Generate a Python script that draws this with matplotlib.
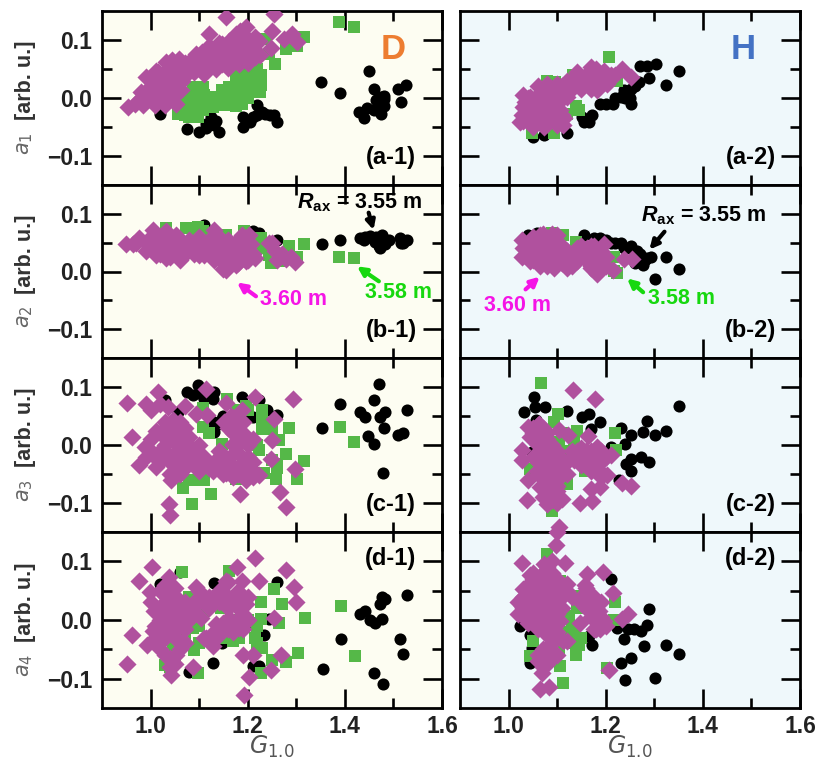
import numpy as np
import matplotlib
matplotlib.use("Agg")
import matplotlib.pyplot as plt

plt.rcParams["font.family"] = ["Liberation Sans", "DejaVu Sans"]
plt.rcParams["mathtext.fontset"] = "custom"
plt.rcParams["mathtext.rm"] = "DejaVu Sans"
plt.rcParams["mathtext.it"] = "DejaVu Sans:italic"
plt.rcParams["mathtext.bf"] = "Liberation Sans:bold"
plt.rcParams["mathtext.bfit"] = "Liberation Sans:italic:bold"

# (G_1.0, a_n). D column
d1_black = [(1.02,-.027),(1.075,-.054),(1.10,-.058),(1.14,-.059),(1.125,-.033),(1.115,-.044),(1.115,-.052),(1.13,-.047),(1.19,-.05),(1.19,-.033),(1.205,-.041),(1.22,-.012),(1.22,-.03),(1.235,-.027),(1.255,-.03),(1.26,-.041),(1.23,-.024),(1.21,-.033),(1.45,.046),(1.35,.027),(1.39,.009),(1.46,.016),(1.475,.002),(1.48,-.001),(1.48,-.013),(1.43,-.024),(1.44,-.034),(1.46,-.021),(1.475,-.027),(1.515,-.007),(1.51,.015),(1.525,.022),(1.465,-.004),
            (1.135,-.04),(1.2,-.04),(1.245,-.03),(1.445,-.018),(1.47,-.012),(1.48,.003)]
d1_green = [(1.056,-.027),(1.08,-.033),(1.097,-.033),(1.087,.019),(1.107,.019),(1.094,-.004),(1.073,-.015),(1.128,.002),(1.148,-.004),(1.169,-.01),(1.189,-.01),(1.189,.013),(1.175,.039),(1.203,.036),(1.227,.022),(1.227,.039),(1.21,.053),(1.257,.059),(1.244,.076),(1.278,.085),(1.302,.09),(1.315,.105),(1.387,.131),(1.419,.123),(1.237,.102),(1.114,-.01),(1.175,.007),(1.216,.047),(1.107,-.021),(1.066,-.021),(1.128,-.015),(1.148,.013),(1.162,.019),(1.189,.03),
            (1.08,.0),(1.10,-.012),(1.12,-.008),(1.09,.012),(1.07,.0),(1.11,.005),(1.14,-.008),(1.16,.0),(1.18,.0),(1.19,.02),(1.21,.02),(1.21,.035),(1.19,.045),(1.22,.05),(1.07,-.03),(1.09,-.025),(1.12,.0),
            (1.085,-.012),(1.1,.0),(1.13,-.012),(1.155,-.012),(1.175,-.014),(1.2,.0),(1.17,.018),(1.2,.012),(1.18,.028),(1.225,.01)]
d1_purple = [(.954,-.015),(.977,-.004),(.967,-.01),(.991,.002),(.991,.036),(1.008,.025),(1.032,.019),(1.046,.002),(1.053,-.01),(1.063,.013),(1.032,.062),(1.039,.042),(1.059,.067),(1.073,.042),(1.087,.059),(1.107,.053),(1.128,.065),(1.148,.059),(1.169,.065),(1.182,.059),(1.216,.07),(1.196,.105),(1.175,.11),(1.196,.122),(1.216,.105),(1.175,.087),(1.148,.093),(1.121,.11),(1.155,.139),(1.254,.145),(1.247,.087),(1.25,.116),(1.274,.102),(1.291,.11),(1.302,.096),(1.223,.099),(1.121,.076),(1.094,.076),(1.012,.047),(1.018,-.004),(.998,.013),(1.039,.025),(1.08,.059),(1.141,.076),(1.162,.099),(1.189,.082),(1.21,.087),
             (.98,.01),(1.0,.0),(1.02,.01),(1.0,.02),(1.02,.03),(1.03,.0),(1.04,.01),(1.05,.02),(1.015,.045),(1.03,.045),(1.05,.05),(1.06,.04),(1.045,.065),(1.07,.06),(1.09,.07),(1.10,.065),(1.12,.06),(1.13,.08),(1.15,.075),(1.14,.095),(1.16,.085),(1.18,.075),(1.17,.1),(1.19,.095),(1.2,.075),(1.21,.095),(1.185,.115),(1.08,.045),(.985,-.012),(1.01,-.012),(1.03,-.012),(1.0,.035),
             (1.065,.03),(1.09,.045),(1.11,.042),(1.135,.05),(1.16,.052),(1.2,.06),(1.19,.07),(1.225,.075),(1.105,.08),(1.12,.09)]

d2_black = [(1.353,.048),(1.389,.055),(1.431,.058),(1.442,.059),(1.455,.058),(1.476,.064),(1.462,.052),(1.472,.041),(1.483,.047),(1.513,.058),(1.52,.049),(1.527,.055),(1.223,.067),(1.261,.055),(1.111,.081),(1.21,.07),(1.469,.055),(1.452,.061),
            (1.44,.055),(1.47,.045),(1.49,.055),(1.465,.06),(1.515,.05)]
d2_green = [(1.285,.045),(1.315,.048),(1.388,.025),(1.419,.023),(1.032,.075),(1.073,.075),(1.097,.078),(1.087,.064),(1.107,.07),(1.155,.064),(1.192,.07),(1.227,.058),(1.223,.041),(1.247,.015),(1.264,.018),(1.302,.026),(1.285,.026),(1.244,.029),
            (1.25,.03),(1.24,.05)]
d2_purple = [(.95,.048),(.977,.058),(.964,.047),(1.005,.072),(.998,.052),(.991,.035),(1.032,.07),(1.032,.024),(1.018,.041),(1.046,.052),(1.059,.041),(1.073,.047),(1.087,.041),(1.107,.047),(1.131,.072),(1.128,.052),(1.148,.052),(1.155,.003),(1.148,.018),(1.175,.012),(1.189,.064),(1.175,.041),(1.196,.018),(1.216,.024),(1.206,.047),(1.244,.049),(1.257,.035),(1.278,.021),(1.298,.017),(1.121,.035),(1.162,.029),(1.053,.064),(1.012,.029),(1.203,.064),
             (.97,.05),(.99,.05),(1.0,.06),(1.01,.045),(1.02,.055),(1.03,.04),(1.04,.06),(1.05,.035),(1.06,.055),(1.07,.03),(1.08,.055),(1.09,.03),(1.1,.06),(1.1,.04),(1.12,.055),(1.13,.04),(1.11,.028),(1.14,.06),(1.15,.04),(1.16,.055),(1.17,.03),(1.18,.055),(1.19,.035),(1.2,.05),(1.21,.03),(1.165,.015),(1.18,.015),(1.2,.02),(1.14,.03),(1.25,.05),(1.27,.03),(1.26,.02),(1.29,.025),(1.02,.03),(1.0,.04),(1.13,.062),
             (1.1,.028),(1.06,.02),(1.04,.025),(1.15,.005),(1.13,.02)]

d3_black = [(1.097,.103),(1.076,.091),(1.087,.086),(1.111,.08),(1.131,.091),(1.128,.08),(1.189,.082),(1.223,.077),(1.261,.051),(1.21,.048),(1.148,.045),(1.134,.034),(1.131,.022),(1.056,.057),(1.029,.077),(1.47,.105),(1.461,.077),(1.389,.07),(1.353,.03),(1.431,.057),(1.442,.048),(1.483,.057),(1.472,.048),(1.527,.061),(1.481,.03),(1.448,.016),(1.46,.001),(1.51,.017),(1.52,.02),(1.478,-.049),
            (1.1,.09),(1.12,.09),(1.15,.05),(1.2,.05),(1.24,.06),(1.13,.04),(1.13,.03)]
d3_green = [(1.389,.031),(1.419,.005),(1.285,.03),(1.315,-.028),(1.302,-.059),(1.259,-.059),(1.278,-.016),(1.261,-.032),(1.264,.008),(1.23,.06),(1.23,.028),(1.25,.028),(1.223,-.009),(1.124,-.085),(1.085,-.101),(1.066,-.074),(1.094,-.061),(1.175,-.058),(1.233,-.049),(1.158,.08),(1.196,.068),(1.107,.063),(1.107,.031),(1.148,.002),(1.094,-.032),(1.175,.06),(1.059,-.049),
            (1.12,.02),(1.2,.06),(1.23,.04),(1.24,.03),(1.22,.0),(1.25,-.025),(1.1,-.05),(1.11,-.06),(1.08,-.06),(1.26,-.04)]
d3_purple = [(.952,.073),(1.016,.091),(.991,.071),(1.035,.066),(1.07,.068),(1.114,.096),(1.155,.073),(1.216,.082),(1.294,.08),(.962,.014),(1.254,.045),(1.25,.008),(1.247,-.024),(1.298,-.041),(1.266,-.081),(1.279,-.107),(1.184,-.085),(1.037,-.102),(1.039,-.121),(.977,-.035),(.988,-.003),(1.012,.025),(1.022,-.009),(1.012,-.038),(1.042,-.061),(1.046,.043),(1.053,.002),(1.073,-.021),(1.094,.054),(1.117,.051),(1.08,.014),(1.107,-.026),(1.128,-.044),(1.155,-.049),(1.196,-.061),(1.223,-.052),(1.169,.002),(1.152,.04),(1.189,.06),(1.175,.031),(1.203,.008),(1.189,-.021),(1.21,-.044),(1.032,.014),(1.059,-.032),(1.148,-.015),
             (1.0,.01),(1.02,.02),(1.04,.03),(1.06,.03),(1.05,.01),(1.07,.01),(1.03,-.01),(1.0,-.01),(.99,-.02),(1.04,-.03),(1.06,-.015),(1.08,-.005),(1.09,-.03),(1.11,-.02),(1.1,.0),(1.07,.03),(1.02,-.03),(1.06,-.05),(1.05,-.035),(1.13,-.03),(1.15,-.035),(1.16,-.03),(1.18,-.04),(1.17,-.055),(1.19,-.05),(1.2,-.04),(1.21,-.055),(1.17,.02),(1.19,.02),(1.18,.04),(1.16,.03),(1.2,.0),(1.18,.0),(1.17,-.015),(1.2,-.02),(1.15,-.05),(1.03,.04),(1.1,-.045),(1.02,.07),(1.0,.06),(1.04,-.05),(1.14,-.01),
             (1.03,.0),(1.06,.04),(1.08,.0),(1.09,-.015),(1.12,-.04),(1.14,-.04),(1.16,-.045),(1.18,-.05),(1.19,-.03),(1.21,-.03),(1.04,-.02),(1.01,-.02),(1.05,-.015),(1.07,-.04),(1.05,.02),(1.17,.0),(1.19,.04),(1.165,.05),(1.21,.01)]

d4_black = [(1.061,.082),(1.02,.061),(1.131,.063),(1.261,.064),(1.476,.04),(1.483,.036),(1.472,.027),(1.527,.043),(1.442,.016),(1.431,.01),(1.452,0),(1.462,-.005),(1.477,.001),(1.392,-.033),(1.513,-.033),(1.519,-.058),(1.355,-.083),(1.461,-.09),(1.479,-.109),(1.128,-.074),(1.08,-.088),(1.21,-.079),(1.223,-.079),(1.233,-.026),(1.21,-.005),(1.244,.001),(1.148,-.039)]
d4_green = [(1.065,.082),(1.392,.024),(1.421,-.062),(1.303,-.056),(1.278,-.071),(1.254,.053),(1.271,.027),(1.317,.004),(1.264,-.005),(1.227,.03),(1.227,.001),(1.216,-.03),(1.23,-.048),(1.25,-.068),(1.097,-.091),(1.09,-.051),(1.029,-.076),(1.169,-.036),(1.182,-.03),(1.087,-.013),(1.08,.039),(1.107,.016),(1.162,.084),(1.227,-.091),(1.145,.021),(1.046,-.042),
            (1.1,-.01),(1.09,-.05),(1.1,-.04),(1.13,.03),(1.2,.0),(1.22,-.01),(1.22,-.04),(1.15,-.03),(1.17,.0),(1.07,-.03),(1.05,-.06),(1.04,-.08)]
d4_purple = [(1.003,.09),(1.038,.074),(.977,.067),(1.177,.09),(1.216,.105),(1.279,.086),(1.223,.066),(1.295,.057),(1.3,.03),(1.255,.003),(1.188,.067),(1.155,.067),(1.094,.056),(.998,.047),(1.032,.044),(1.053,.039),(1.1,.033),(1.121,.03),(1.175,.039),(1.196,.027),(1.162,.004),(1.008,.016),(1.025,-.002),(1.053,.004),(1.08,.01),(1.104,.004),(1.005,-.019),(1.032,-.019),(.962,-.025),(.992,-.043),(.952,-.075),(1.128,-.045),(1.114,-.03),(1.148,-.019),(1.182,-.013),(1.066,-.036),(1.039,-.065),(1.053,-.059),(1.042,-.094),(1.088,-.08),(1.191,-.059),(1.21,-.059),(1.268,-.059),(1.248,-.086),(1.203,-.098),(1.192,-.128),(1.018,-.03),(1.134,-.007),(1.039,.021),
             (1.02,.02),(1.04,.03),(1.06,.03),(1.03,.01),(1.05,.01),(1.07,.02),(1.02,.0),(1.04,-.01),(1.06,-.01),(1.01,-.01),(1.08,.0),(1.0,.03),(1.02,.05),(1.05,.055),(1.03,.06),(1.09,.03),(1.12,.02),(1.11,-.03),(1.13,-.02),(1.14,-.025),(1.15,-.01),(1.17,-.01),(1.15,-.005),(1.17,-.02),(1.18,.0),(1.19,-.015),(1.19,.01),(1.2,.0),(1.19,.03),(1.18,.05),(1.17,.03),(1.16,.04),(1.14,.05),(1.2,.04),(1.03,-.03),(1.05,-.03),(1.01,-.03),(1.07,-.04),(1.03,-.06),(1.05,-.075),(1.04,-.08),(1.02,-.05),(1.06,-.05),(1.12,.04),(1.1,.05),(1.16,.065),
             (1.03,.03),(1.05,.03),(1.07,.03),(1.04,.045),(1.06,.015),(1.03,-.015),(1.05,-.015),(1.07,-.015),(1.09,.015),(1.16,-.015),(1.18,.02),(1.16,.02),(1.14,.03)]

# H column
h1_black = [(1.05,-.067),(1.072,-.064),(1.12,-.06),(1.151,-.033),(1.155,-.041),(1.165,-.041),(1.172,-.03),(1.189,-.011),(1.214,-.011),(1.231,.002),(1.238,.013),(1.252,-.01),(1.245,.007),(1.269,.027),(1.271,.055),(1.286,.056),(1.303,.059),(1.29,.035),(1.324,.022),(1.35,.046),(1.252,.016),
            (1.16,-.04),(1.2,-.01),(1.22,.0),(1.24,.0),(1.25,.0),(1.26,.02)]
h1_green = [(1.207,.071),(1.079,.029),(1.096,.027),(1.133,.039),(1.138,-.013),(1.12,-.027),(1.048,-.061),(1.093,-.061),(1.224,.03),(1.144,-.021)]
h1_purple = [(1.034,-.007),(1.027,-.03),(1.023,-.041),(1.044,.002),(1.048,-.044),(1.072,-.05),(1.1,-.047),(1.113,-.047),(1.079,-.004),(1.086,-.021),(1.106,-.021),(1.065,-.027),(1.106,.013),(1.127,.025),(1.141,.03),(1.169,.053),(1.196,.047),(1.169,.025),(1.203,.025),(1.234,.05),(1.252,.036),(1.182,.013),(1.155,.03),(1.12,.002),(1.086,.013),(1.058,.002),(1.093,-.033),(1.044,-.021),(1.21,.039),
              (1.03,-.015),(1.05,-.01),(1.06,-.02),(1.05,-.03),(1.07,-.01),(1.08,-.03),(1.09,-.01),(1.06,-.04),(1.08,-.045),(1.04,.0),(1.06,.005),(1.08,.01),(1.1,.005),(1.1,-.01),(1.11,-.03),(1.07,.01),(1.12,.015),(1.13,.015),(1.15,.02),(1.16,.04),(1.18,.035),(1.2,.035),(1.22,.04),(1.15,.035),(1.14,.04),(1.17,.015),(1.12,.03),
              (1.03,.005),(1.06,.02),(1.08,.025),(1.1,.025),(1.11,.02),(1.03,-.04),(1.05,-.05),(1.1,-.035),(1.115,-.035),(1.07,-.03),(1.14,.045),(1.18,.05),(1.15,.015)]

h2_black = [(1.041,.064),(1.155,.064),(1.176,.058),(1.189,.058),(1.231,.049),(1.252,.044),(1.265,.035),(1.286,.024),(1.276,.012),(1.293,.026),(1.324,.025),(1.35,.005),(1.302,-.013),(1.21,.049),(1.058,.067),(1.238,.041),(1.272,.021),
            (1.2,.055),(1.22,.05),(1.25,.04),(1.27,.03),(1.28,.02),(1.26,.015)]
h2_green = [(1.089,.067),(1.113,.064),(1.138,.052),(1.217,.001),(1.224,-.002),(1.217,.026)]
h2_purple = [(1.027,.055),(1.027,.026),(1.044,.018),(1.065,.064),(1.065,.009),(1.1,.064),(1.093,.006),(1.12,.006),(1.079,.041),(1.12,.035),(1.148,.035),(1.176,.044),(1.196,.047),(1.182,-.005),(1.169,.006),(1.182,.018),(1.214,.003),(1.238,.021),(1.255,.021),(1.044,.047),(1.1,.041),(1.141,.018),(1.196,.012),(1.162,.041),
             (1.04,.03),(1.06,.05),(1.06,.03),(1.08,.02),(1.08,.055),(1.1,.03),(1.1,.05),(1.12,.02),(1.04,.04),(1.14,.025),(1.14,.04),(1.16,.02),(1.16,.035),(1.18,.03),(1.2,.025),(1.19,.035),(1.05,.02),(1.2,.01),(1.18,.005),(1.17,.01),(1.08,.01),(1.035,.045),(1.07,.065),(1.09,.065),
             (1.03,.04),(1.05,.03),(1.07,.03),(1.07,.05),(1.09,.04),(1.09,.02),(1.11,.045),(1.13,.03),(1.15,.045),(1.17,.03),(1.19,.02),(1.11,.015),(1.13,.01),(1.05,.06),(1.17,.045)]

h3_black = [(1.053,.083),(1.055,.066),(1.032,.057),(1.075,.066),(1.12,.058),(1.057,.043),(1.151,.049),(1.165,.054),(1.189,.04),(1.169,.028),(1.231,.03),(1.252,.018),(1.276,.022),(1.302,.018),(1.324,.025),(1.284,.041),(1.35,.067),(1.239,.001),(1.21,-.003),(1.252,-.024),(1.272,-.02),(1.29,-.03),(1.241,-.032),(1.252,-.044),(1.227,-.061),(1.048,-.012)]
h3_green = [(1.067,.107),(1.101,.053),(1.093,.04),(1.141,.025),(1.103,.005),(1.134,.005),(1.134,-.015),(1.219,.021),(1.222,-.009),(1.158,-.044),(1.12,-.067),(1.089,-.113),(1.044,-.041),
            (1.11,.02),(1.12,-.01),(1.15,-.03)]
h3_purple = [(1.132,.094),(1.177,.08),(1.041,.031),(1.062,.037),(1.103,.026),(1.122,.017),(1.163,.016),(1.027,-.008),(1.027,-.025),(1.044,.014),(1.065,.002),(1.072,-.021),(1.058,-.044),(1.039,-.06),(1.079,-.049),(1.065,-.072),(1.106,-.021),(1.134,-.026),(1.169,-.015),(1.182,-.003),(1.21,-.018),(1.189,-.044),(1.203,-.052),(1.169,-.075),(1.189,-.072),(1.234,-.066),(1.253,-.071),(1.037,-.095),(1.079,-.101),(1.11,-.093),(1.148,-.1),(1.172,-.097),(1.103,-.141),(1.086,-.078),(1.093,-.09),(1.072,.02),(1.086,-.061),
             (1.05,.03),(1.06,.02),(1.07,.02),(1.06,.0),(1.07,.0),(1.08,.01),(1.07,-.01),(1.08,-.02),(1.07,-.03),(1.08,-.04),(1.09,-.03),(1.06,-.03),(1.07,-.05),(1.09,-.05),(1.08,-.06),(1.09,-.07),(1.07,-.07),(1.1,-.06),(1.1,-.08),(1.08,-.085),(1.09,-.095),(1.1,-.04),(1.1,-.02),(1.12,-.03),(1.15,-.02),(1.16,-.01),(1.17,-.01),(1.18,-.02),(1.19,-.01),(1.2,-.02),(1.15,-.035),(1.17,-.03),(1.18,-.04),(1.19,-.055),(1.06,.035),(1.05,.01),
             (1.08,-.01),(1.09,-.01),(1.09,.0),(1.1,-.01),(1.05,-.02),(1.06,-.05),(1.1,-.1),(1.1,-.07),(1.11,-.05),(1.12,-.05),(1.1,-.09),(1.07,-.09),(1.09,-.08),(1.16,-.03),(1.14,-.01),(1.13,-.01),(1.15,-.005),(1.19,-.03),(1.17,-.045),(1.07,.03),(1.05,.02),(1.08,.02)]

h4_black = [(1.211,.07),(1.29,.018),(1.284,-.009),(1.272,-.019),(1.258,-.016),(1.245,-.016),(1.224,-.013),(1.238,-.033),(1.278,-.044),(1.324,-.042),(1.35,-.058),(1.252,-.064),(1.231,-.074),(1.239,-.102),(1.302,-.099),(1.172,-.042),(1.165,-.028),(1.044,-.025),(1.023,-.01),(1.048,-.048),(1.044,-.074)]
h4_green = [(1.079,.113),(1.106,.067),(1.22,.03),(1.217,0),(1.124,.007),(1.144,.041),(1.134,-.025),(1.144,-.042),(1.138,-.059),(1.106,-.079),(1.113,-.108),(1.203,-.082),(1.051,-.036),(1.044,-.062),(1.103,-.053),
            (1.13,-.01),(1.14,-.03),(1.15,-.03),(1.12,-.02),(1.14,.02),(1.13,-.04)]
h4_purple = [(1.028,.098),(1.097,.128),(1.117,.098),(1.1,.15),(1.072,.096),(1.044,.076),(1.075,.073),(1.12,.061),(1.162,.079),(1.194,.082),(1.158,.059),(1.215,.046),(1.03,.053),(1.027,.024),(1.065,.039),(1.093,.021),(1.12,.047),(1.041,-.002),(1.079,-.002),(1.106,-.002),(1.151,.027),(1.176,.039),(1.186,.016),(1.148,-.005),(1.189,-.016),(1.079,-.025),(1.113,-.036),(1.065,-.059),(1.086,-.068),(1.068,-.091),(1.065,-.118),(1.084,-.115),(1.207,-.085),(1.245,.01),(1.234,.001),(1.1,.056),(1.051,.056),(1.058,.016),(1.169,.021),(1.196,-.002),
             (1.04,.06),(1.06,.06),(1.08,.06),(1.1,.05),(1.03,.04),(1.05,.04),(1.07,.04),(1.09,.04),(1.11,.04),(1.03,.02),(1.05,.02),(1.07,.02),(1.09,.02),(1.11,.02),(1.04,.0),(1.06,.0),(1.08,.0),(1.1,.0),(1.05,.08),(1.07,.08),(1.09,.08),(1.06,-.015),(1.08,-.015),(1.1,-.02),(1.12,-.035),(1.09,-.04),(1.07,-.05),(1.08,-.06),(1.06,-.06),(1.07,-.075),(1.13,.04),(1.12,.05),(1.16,.055),(1.17,.04),(1.16,.02),(1.18,.02),(1.19,.03),(1.17,.005),(1.19,.005),(1.2,-.01),(1.18,-.015),(1.08,.09),(1.09,.1),
             (1.04,.05),(1.06,.05),(1.08,.05),(1.04,.03),(1.06,.03),(1.08,.03),(1.1,.03),(1.04,.01),(1.06,.01),(1.08,.01),(1.1,.01),(1.05,.07),(1.07,.07),(1.09,.07),(1.02,.03),(1.02,.01),(1.04,-.005),(1.07,-.01),(1.09,-.01),(1.09,-.03),(1.08,-.05),(1.06,-.07),(1.08,-.075),(1.1,-.06),(1.07,-.08),(1.1,.07),(1.18,.03),(1.17,.02),(1.16,.035),(1.15,.04),(1.18,.0),(1.175,-.015)]

d_rows = [(d1_black, d1_green, d1_purple), (d2_black, d2_green, d2_purple),
          (d3_black, d3_green, d3_purple), (d4_black, d4_green, d4_purple)]
h_rows = [(h1_black, h1_green, h1_purple), (h2_black, h2_green, h2_purple),
          (h3_black, h3_green, h3_purple), (h4_black, h4_green, h4_purple)]
row_tags = ["a", "b", "c", "d"]

W, H = 818, 760
row_px = [(11, 185), (185, 358), (358, 532), (532, 708)]
col_px = [(102, 442), (460, 800)]
col_bg = ["#fdfdf2", "#eff8fb"]
tick_col = "#222222"


def add_panel(col, row):
    x0, x1 = col_px[col]
    y0, y1 = row_px[row]
    ax = fig.add_axes([x0 / W, 1 - y1 / H, (x1 - x0) / W, (y1 - y0) / H], facecolor=col_bg[col])
    ax.set_xlim(0.9, 1.6)
    ax.set_ylim(-0.15, 0.15)
    ax.set_xticks([1.0, 1.2, 1.4, 1.6])
    ax.set_xticks([1.1, 1.3, 1.5], minor=True)
    ax.set_yticks([-0.1, 0.0, 0.1])
    ax.set_yticks([-0.05, 0.05], minor=True)
    ax.tick_params(which="major", direction="in", top=True, right=True, length=14, width=1.9,
                   labelsize=16.5, pad=5, labelcolor=tick_col)
    ax.tick_params(which="major", axis="y", pad=7)
    ax.tick_params(which="minor", direction="in", top=True, right=True, length=7, width=1.9)
    for s in ax.spines.values():
        s.set_linewidth(2.0)
    if row < 3:
        ax.tick_params(labelbottom=False)
    else:
        ax.set_xticklabels(["1.0", "1.2", "1.4", "1.6"], fontweight="bold")
        ax.set_xlabel(r"$G_{1.0}$", fontsize=17, color="#555555", labelpad=-3)
    if col == 1:
        ax.tick_params(labelleft=False)
    else:
        ax.set_yticklabels(["\u22120.1", "0.0", "0.1"], fontweight="bold")
        ax.text(-0.226, 0.24, rf"$a_{row + 1}$", transform=ax.transAxes, rotation=90, fontsize=15,
                color="#666666", ha="center", va="center")
        ax.text(-0.226, 0.6, "[arb. u.]", transform=ax.transAxes, rotation=90, fontsize=15.5,
                color="#333333", fontweight="bold", ha="center", va="center")
    return ax


def scatter_row(ax, black, green, purple, clip=True):
    pts = np.array(black)
    ax.scatter(pts[:, 0], pts[:, 1], s=76, c="black", marker="o", linewidths=0, zorder=3)
    pts = np.array(green)
    ax.scatter(pts[:, 0], pts[:, 1], s=78, c="#55b848", marker="s", linewidths=0, zorder=4)
    pts = np.array(purple)
    ax.scatter(pts[:, 0], pts[:, 1], s=85, c="#b0519e", marker="D", linewidths=0, zorder=5, clip_on=clip)


def note(ax, text, color, text_xy, tail, head):
    ax.text(text_xy[0], text_xy[1], text, color=color, fontsize=15.5, fontweight="bold",
            ha="center", va="center", zorder=7)
    ax.annotate("", xy=head, xytext=tail, zorder=7,
                arrowprops=dict(arrowstyle="-|>", color=color, lw=3, mutation_scale=13, shrinkA=0, shrinkB=0))


fig = plt.figure(figsize=(W / 100, H / 100), dpi=100)

for r in range(4):
    ax = add_panel(0, r)
    scatter_row(ax, *d_rows[r])
    ly = 0.85 if r == 3 else 0.16
    ax.text(0.85, ly, f"({row_tags[r]}-1)", transform=ax.transAxes, fontsize=17, fontweight="bold",
            ha="center", va="center", zorder=8)
    if r == 0:
        ax.text(0.855, 0.78, "D", transform=ax.transAxes, fontsize=25, fontweight="bold",
                color="#ed7d31", ha="center", va="center", zorder=8)
    if r == 1:
        note(ax, r"$\mathbfit{R}_{\mathbf{ax}}$ = 3.55 m", "black", (1.431, 0.119), (1.449, 0.102), (1.459, 0.072))
        note(ax, "3.60 m", "#f514e6", (1.295, -0.048), (1.217, -0.043), (1.178, -0.019))
        note(ax, "3.58 m", "#17d80f", (1.511, -0.036), (1.47, -0.017), (1.425, 0.009))

for r in range(4):
    ax = add_panel(1, r)
    scatter_row(ax, *h_rows[r], clip=(r != 3))
    ly = 0.85 if r == 3 else 0.16
    ax.text(0.855, ly, f"({row_tags[r]}-2)", transform=ax.transAxes, fontsize=17, fontweight="bold",
            ha="center", va="center", zorder=8)
    if r == 0:
        ax.text(0.833, 0.78, "H", transform=ax.transAxes, fontsize=25, fontweight="bold",
                color="#4472c4", ha="center", va="center", zorder=8)
    if r == 1:
        note(ax, r"$\mathbfit{R}_{\mathbf{ax}}$ = 3.55 m", "black", (1.402, 0.097), (1.321, 0.069), (1.29, 0.038))
        note(ax, "3.60 m", "#f514e6", (1.019, -0.059), (1.035, -0.031), (1.064, -0.009))
        note(ax, "3.58 m", "#17d80f", (1.356, -0.047), (1.277, -0.036), (1.244, -0.012))

fig.savefig("out.png", dpi=100)
